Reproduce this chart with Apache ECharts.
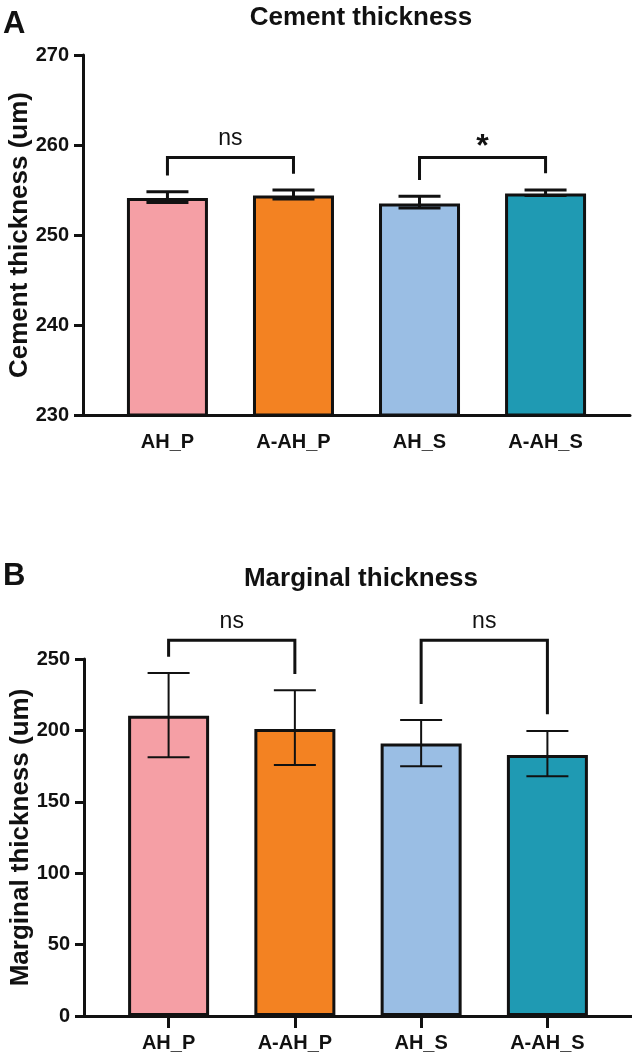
<!DOCTYPE html>
<html>
<head>
<meta charset="utf-8">
<script src="https://cdn.jsdelivr.net/npm/echarts@6/dist/echarts.min.js"></script>
<style>
  html, body { margin: 0; padding: 0; background: #fff; }
  #chart { width: 632px; height: 1053px; }
</style>
</head>
<body>
<div id="chart"></div>
<script>
var groups = ['AH_P', 'A-AH_P', 'AH_S', 'A-AH_S'];
var barColors = ['#f59fa5', '#f38222', '#9abee4', '#1f9ab3'];

// panel A - cement thickness
var cementMean = [254.1, 254.4, 253.5, 254.6];
var cementLow = [253.6, 254.0, 253.0, 254.4];
var cementHigh = [254.8, 255.0, 254.3, 255.0];
var cementTicks = [230, 270, 10];
// brackets: [x1, x2, y, leftEnd, rightEnd]
var cementBrackets = [[1, 2, 258.6, 256.6, 256.8], [3, 4, 258.6, 256.1, 256.85]];
var cementMarks = ['ns', '*'];

// panel B - marginal thickness
var marginMean = [210.2, 201.0, 190.8, 182.8];
var marginLow = [181.2, 175.8, 174.9, 167.9];
var marginHigh = [240.2, 228.1, 207.3, 199.6];
var marginTicks = [0, 250, 50];
var marginBrackets = [[1, 2, 263.1, 251.6, 239.5], [3, 4, 263.1, 218.5, 211.3]];
var marginMarks = ['ns', 'ns'];

var font = "'Liberation Sans', Arial, sans-serif";
var chart = echarts.init(document.getElementById('chart'));

function barData(vals) {
  return vals.map(function (v, i) {
    return { value: [i + 1, v], itemStyle: { color: barColors[i] } };
  });
}

function errData(lo, hi) {
  return lo.map(function (v, i) { return [i + 1, v, hi[i]]; });
}

function errSeries(idx, lo, hi, lw) {
  return {
    type: 'custom', xAxisIndex: idx, yAxisIndex: idx, z: 5,
    data: errData(lo, hi),
    encode: { x: 0, y: [1, 2] },
    renderItem: function (params, api) {
      var x = api.value(0);
      var a = api.coord([x, api.value(1)]);
      var b = api.coord([x, api.value(2)]);
      var s = { stroke: '#111', lineWidth: lw };
      return {
        type: 'group',
        children: [
          { type: 'line', shape: { x1: a[0], y1: a[1], x2: b[0], y2: b[1] }, style: s },
          { type: 'line', shape: { x1: a[0] - 21, y1: a[1], x2: a[0] + 21, y2: a[1] }, style: s },
          { type: 'line', shape: { x1: b[0] - 21, y1: b[1], x2: b[0] + 21, y2: b[1] }, style: s }
        ]
      };
    }
  };
}

function bracketSeries(idx, br, marks) {
  return {
    type: 'custom', xAxisIndex: idx, yAxisIndex: idx, z: 6, clip: false,
    data: br,
    encode: { x: [0, 1], y: [2, 3, 4] },
    renderItem: function (params, api) {
      var l = api.coord([api.value(0), api.value(2)]);
      var r = api.coord([api.value(1), api.value(2)]);
      var lb = api.coord([api.value(0), api.value(3)]);
      var rb = api.coord([api.value(1), api.value(4)]);
      var mark = marks[params.dataIndex];
      var star = mark === '*';
      return {
        type: 'group',
        children: [
          { type: 'polyline', shape: { points: [[lb[0], lb[1]], [l[0], l[1]], [r[0], r[1]], [rb[0], rb[1]]] },
            style: { stroke: '#111', lineWidth: 3, fill: null } },
          { type: 'text', x: (l[0] + r[0]) / 2, y: l[1] - (star ? 10 : 19),
            style: { text: mark, fill: '#111', align: 'center', verticalAlign: 'middle',
              font: (star ? 'bold 32px ' : '23px ') + font } }
        ]
      };
    }
  };
}

function yAxis(idx, ticks, name) {
  return {
    type: 'value', gridIndex: idx, min: ticks[0], max: ticks[1], interval: ticks[2],
    name: name, nameLocation: 'middle', nameGap: 50, nameMoveOverlap: false,
    nameTextStyle: { fontFamily: font, fontWeight: 'bold', fontSize: 26, color: '#111' },
    axisLine: { show: true, lineStyle: { color: '#111', width: 3 } },
    axisTick: { show: true, length: 9, lineStyle: { color: '#111', width: 3 } },
    axisLabel: { fontFamily: font, fontWeight: 'bold', fontSize: 20, color: '#111', margin: 14 },
    splitLine: { show: false }
  };
}

function xAxis(idx, showTicks) {
  return {
    type: 'value', gridIndex: idx, min: 0.33, max: 4.67,
    axisLine: { show: true, onZero: false, lineStyle: { color: '#111', width: 3 } },
    axisTick: { show: showTicks, customValues: [1, 2, 3, 4], length: 12, lineStyle: { color: '#111', width: 3 } },
    axisLabel: {
      customValues: [1, 2, 3, 4], margin: 17,
      fontFamily: font, fontWeight: 'bold', fontSize: 20, color: '#111',
      formatter: function (v) { return groups[Math.round(v) - 1]; }
    },
    splitLine: { show: false }
  };
}

chart.setOption({
  animation: false,
  title: [
    { text: 'A', left: -2, top: 4, textStyle: { fontFamily: font, fontWeight: 'bold', fontSize: 31, color: '#111' } },
    { text: 'Cement thickness', left: 356, top: 0, textAlign: 'center',
      textStyle: { fontFamily: font, fontWeight: 'bold', fontSize: 26, color: '#111' } },
    { text: 'B', left: -2, top: 556, textStyle: { fontFamily: font, fontWeight: 'bold', fontSize: 31, color: '#111' } },
    { text: 'Marginal thickness', left: 356, top: 561, textAlign: 'center',
      textStyle: { fontFamily: font, fontWeight: 'bold', fontSize: 26, color: '#111' } }
  ],
  grid: [
    { left: 83, top: 55, width: 547, height: 360, outerBoundsMode: 'none', containLabel: false },
    { left: 84, top: 659, width: 548, height: 357, outerBoundsMode: 'none', containLabel: false }
  ],
  xAxis: [xAxis(0, false), xAxis(1, true)],
  yAxis: [yAxis(0, cementTicks, 'Cement thickness (um)'), yAxis(1, marginTicks, 'Marginal thickness (um)')],
  series: [
    { type: 'bar', xAxisIndex: 0, yAxisIndex: 0, barWidth: 81, data: barData(cementMean),
      itemStyle: { borderColor: '#111', borderWidth: 3 } },
    errSeries(0, cementLow, cementHigh, 3),
    bracketSeries(0, cementBrackets, cementMarks),
    { type: 'bar', xAxisIndex: 1, yAxisIndex: 1, barWidth: 81, data: barData(marginMean),
      itemStyle: { borderColor: '#111', borderWidth: 3 } },
    errSeries(1, marginLow, marginHigh, 2),
    bracketSeries(1, marginBrackets, marginMarks)
  ]
});
</script>
</body>
</html>
